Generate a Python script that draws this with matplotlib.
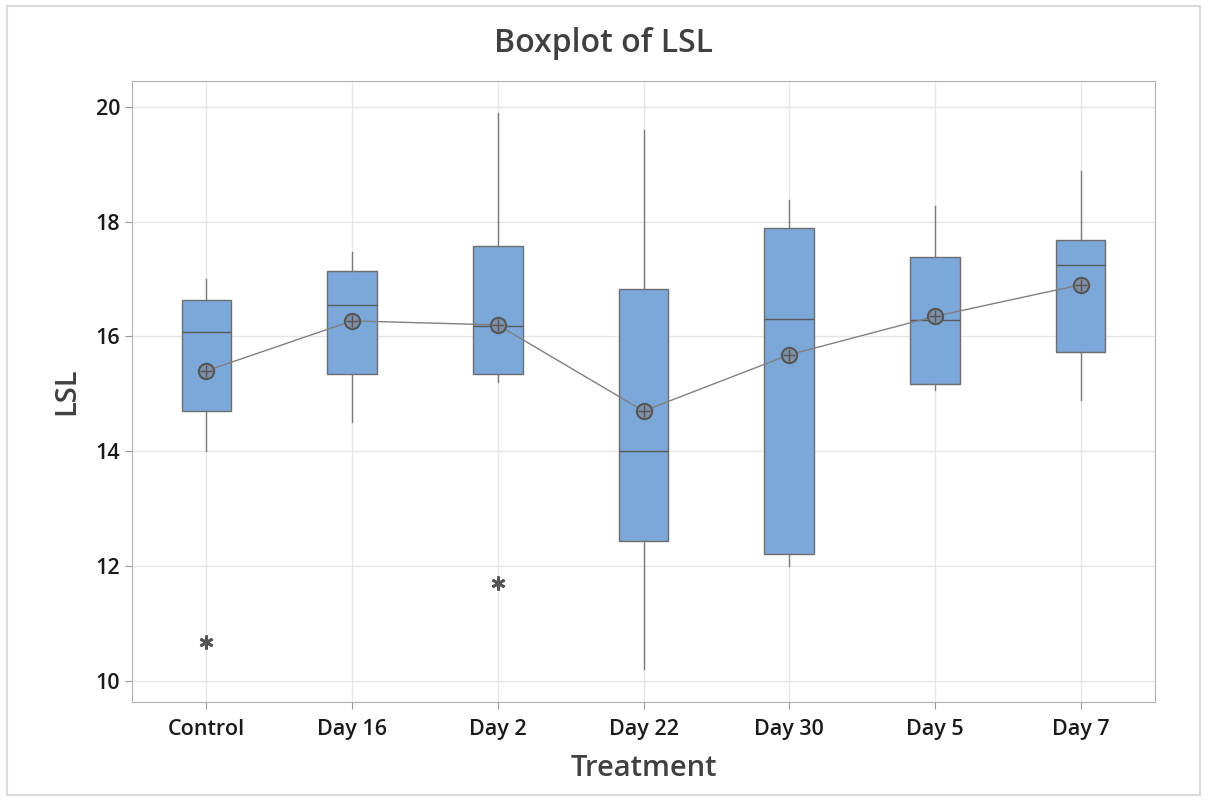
import matplotlib.pyplot as plt
from matplotlib.patches import Rectangle

plt.rcParams['font.family'] = ['Open Sans', 'DejaVu Sans']

# Box statistics
groups = ['Control', 'Day 16', 'Day 2', 'Day 22', 'Day 30', 'Day 5', 'Day 7']
whislo = [14.0, 14.5, 15.2, 10.2, 12.0, 15.07, 14.9]
q1 = [14.7, 15.35, 15.35, 12.44, 12.2, 15.17, 15.73]
med = [16.08, 16.55, 16.18, 14.0, 16.31, 16.29, 17.25]
q3 = [16.64, 17.14, 17.58, 16.83, 17.89, 17.39, 17.68]
whishi = [17.0, 17.47, 19.9, 19.6, 18.38, 18.28, 18.88]
means = [15.4, 16.27, 16.2, 14.7, 15.68, 16.35, 16.9]
outliers = [[10.67], [], [11.7], [], [], [], []]

stats = []
for i, g in enumerate(groups):
    stats.append(dict(label=g, whislo=whislo[i], q1=q1[i], med=med[i],
                      q3=q3[i], whishi=whishi[i], mean=means[i],
                      fliers=outliers[i]))

fig = plt.figure(figsize=(12.08, 8.02), dpi=100)
ax = fig.add_axes([132 / 1208, 1 - 702 / 802, (1155 - 132) / 1208, (702 - 81) / 802])

# outer frame
fig.patches.append(Rectangle((7 / 1208, 1 - 795 / 802), 1193 / 1208, 789 / 802,
                             transform=fig.transFigure, fill=False,
                             edgecolor='#d9d9d9', linewidth=1.5))

pos = list(range(len(groups)))
ax.bxp(stats, positions=pos, widths=0.34, patch_artist=True, showcaps=False,
       showmeans=False, zorder=3,
       boxprops=dict(facecolor='#7ba7d9', edgecolor='#6e6e6e', linewidth=1),
       medianprops=dict(color='#5a5a5a', linewidth=1),
       whiskerprops=dict(color='#7a7a7a', linewidth=1),
       flierprops=dict(marker=(6, 2, 0), markersize=10, markeredgewidth=2,
                       markerfacecolor='#555555', markeredgecolor='#555555'))

ax.plot(pos, means, color='#808080', linewidth=1, zorder=4)
ax.plot(pos, means, 'o', markersize=11, markerfacecolor='#7f8fa8',
        markeredgecolor='#555555', markeredgewidth=1.5, zorder=5)
ax.plot(pos, means, '+', markersize=8, color='#555555', markeredgewidth=1, zorder=6)

ax.set_xlim(-0.51, 6.51)
ax.set_ylim(9.63, 20.45)
ax.set_yticks([10, 12, 14, 16, 18, 20])
ax.set_xticks(pos)
ax.set_xticklabels(groups)
ax.grid(True, color='#e6e6e6', linewidth=1, zorder=0)
ax.set_axisbelow(True)
for s in ax.spines.values():
    s.set_color('#b0b0b0')
ax.tick_params(colors='#999999', labelcolor='#1a1a1a', labelsize=15.5, length=5)
ax.tick_params(axis='x', pad=7)
for lbl in ax.get_xticklabels() + ax.get_yticklabels():
    lbl.set_fontweight('semibold')

ax.set_xlabel('Treatment', fontsize=21, color='#404040', labelpad=10,
              fontweight='semibold')
ax.set_ylabel('LSL', fontsize=21, color='#404040', labelpad=10,
              fontweight='semibold')
fig.suptitle('Boxplot of LSL', y=1 - 44 / 802, va='center', fontsize=23,
             color='#404040', fontweight='semibold')

fig.savefig('out.png', dpi=100)
